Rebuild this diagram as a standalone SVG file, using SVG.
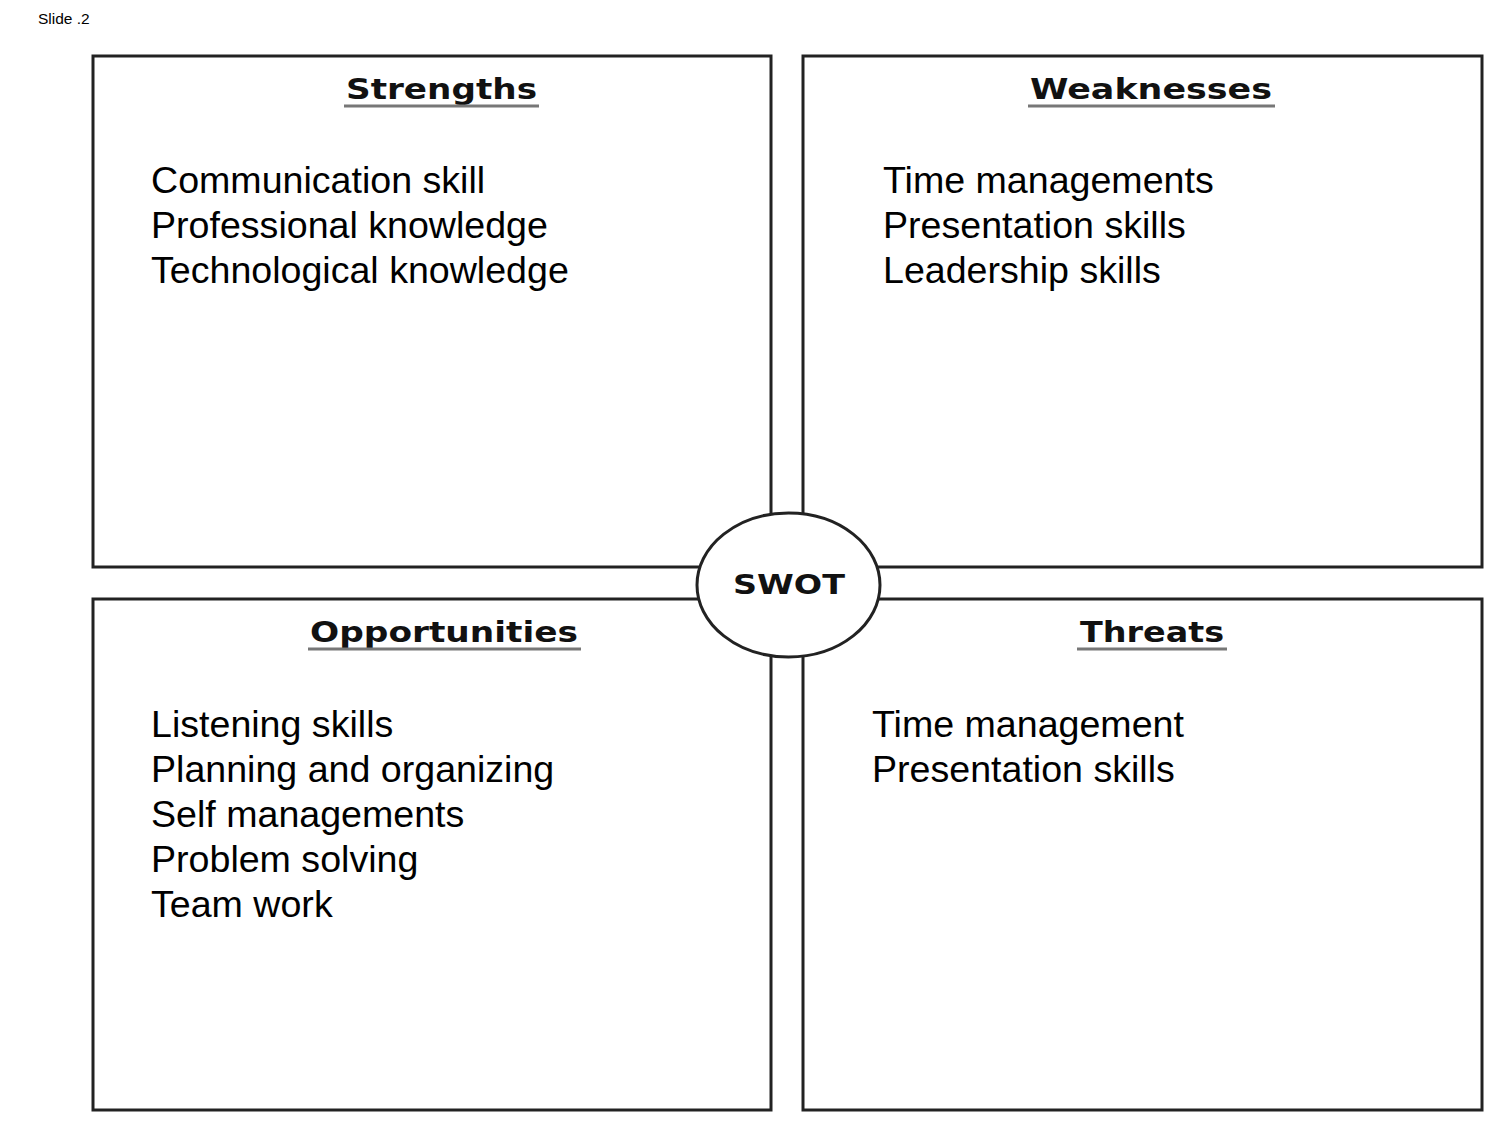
<svg xmlns="http://www.w3.org/2000/svg" width="1500" height="1125" viewBox="0 0 1500 1125">
<style>
.box{fill:#fff;stroke:#222;stroke-width:3}
.head{font-family:"DejaVu Sans",sans-serif;font-weight:bold;font-size:28px;fill:#111;text-anchor:start}
.ul{stroke:#777;stroke-width:3}
.body{font-family:"Liberation Sans",Arial,sans-serif;font-size:37.6px;fill:#000}
</style>
<rect width="1500" height="1125" fill="#fff"/>
<text x="38" y="24" font-family="Liberation Sans,Arial,sans-serif" font-size="15.5" fill="#000">Slide .2</text>
<g id="strengths">
<rect class="box" x="93" y="56" width="678" height="511"/>
<text class="head" x="346" y="99" textLength="191" lengthAdjust="spacingAndGlyphs">Strengths</text>
<line class="ul" x1="344" y1="106" x2="539" y2="106"/>
<text class="body" x="151" y="193">Communication skill</text>
<text class="body" x="151" y="238">Professional knowledge</text>
<text class="body" x="151" y="283">Technological knowledge</text>
</g>
<g id="weaknesses">
<rect class="box" x="803" y="56" width="679" height="511"/>
<text class="head" x="1030" y="99" textLength="242" lengthAdjust="spacingAndGlyphs">Weaknesses</text>
<line class="ul" x1="1028" y1="106" x2="1275" y2="106"/>
<text class="body" x="883" y="193">Time managements</text>
<text class="body" x="883" y="238">Presentation skills</text>
<text class="body" x="883" y="283">Leadership skills</text>
</g>
<g id="opportunities">
<rect class="box" x="93" y="599" width="678" height="511"/>
<text class="head" x="310" y="642" textLength="268" lengthAdjust="spacingAndGlyphs">Opportunities</text>
<line class="ul" x1="308" y1="649" x2="581" y2="649"/>
<text class="body" x="151" y="737">Listening skills</text>
<text class="body" x="151" y="782">Planning and organizing</text>
<text class="body" x="151" y="827">Self managements</text>
<text class="body" x="151" y="872">Problem solving</text>
<text class="body" x="151" y="917">Team work</text>
</g>
<g id="threats">
<rect class="box" x="803" y="599" width="679" height="511"/>
<text class="head" x="1080" y="642" textLength="144" lengthAdjust="spacingAndGlyphs">Threats</text>
<line class="ul" x1="1077" y1="649" x2="1227" y2="649"/>
<text class="body" x="872" y="737">Time management</text>
<text class="body" x="872" y="782">Presentation skills</text>
</g>
<g id="connectors">
<line x1="771" y1="567" x2="803" y2="567" stroke="#222" stroke-width="3"/>
<line x1="771" y1="599" x2="803" y2="599" stroke="#222" stroke-width="3"/>
</g>
<g id="swot">
<ellipse cx="788.5" cy="585" rx="91.5" ry="72" fill="#fff" stroke="#222" stroke-width="3"/>
<text x="733" y="594" font-family="DejaVu Sans,sans-serif" font-weight="bold" font-size="26" fill="#111" textLength="112" lengthAdjust="spacingAndGlyphs">SWOT</text>
</g>
</svg>
